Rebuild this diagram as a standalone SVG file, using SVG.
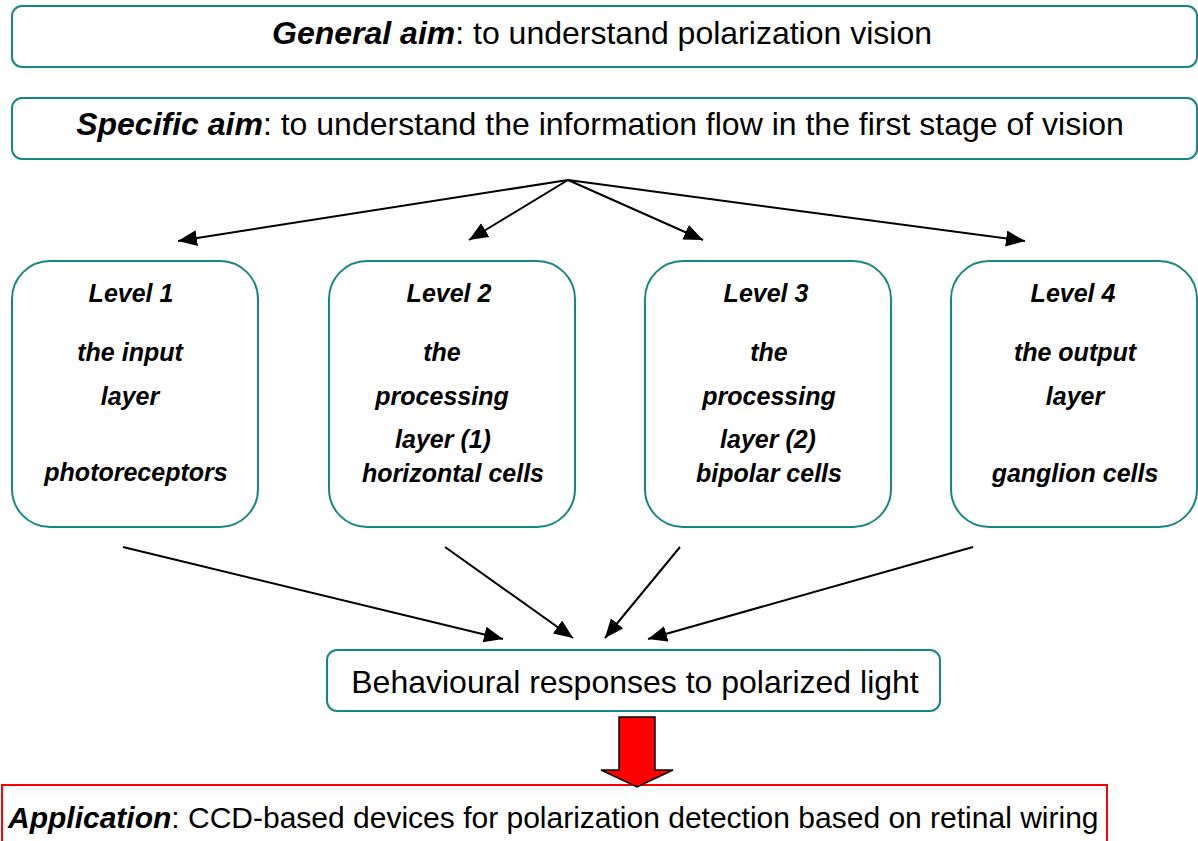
<svg xmlns="http://www.w3.org/2000/svg" width="1198" height="841" viewBox="0 0 1198 841">
<style>
.box{fill:#fff;stroke:#168684;stroke-width:2}
.t{font-family:"Liberation Sans",Arial,sans-serif;fill:#000}
.big{font-size:32px}
.lv{font-size:25px;font-weight:bold;font-style:italic;text-anchor:middle}
.bi{font-weight:bold;font-style:italic}
.con{stroke:#000;stroke-width:2;fill:none;marker-end:url(#ah)}
</style>
<defs>
<marker id="ah" markerUnits="userSpaceOnUse" markerWidth="22" markerHeight="18" refX="19" refY="8" orient="auto">
<path d="M0,0 L19,8 L0,16 z" fill="#000"/>
</marker>
</defs>
<rect width="1198" height="841" fill="#fff"/>
<g id="general">
<rect class="box" x="12" y="6" width="1185" height="61" rx="10"/>
<text class="t big" x="602" y="44" text-anchor="middle"><tspan class="bi">General aim</tspan>: to understand polarization vision</text>
</g>
<g id="specific">
<rect class="box" x="12" y="98" width="1185" height="61" rx="10"/>
<text class="t big" x="600" y="135" text-anchor="middle"><tspan class="bi">Specific aim</tspan>: to understand the information flow in the first stage of vision</text>
</g>
<g id="level1">
<rect class="box" x="12" y="261" width="246" height="266" rx="38"/>
<text class="t lv" x="131" y="302">Level 1</text>
<text class="t lv" x="130" y="361">the input</text>
<text class="t lv" x="130" y="405">layer</text>
<text class="t lv" x="136" y="481">photoreceptors</text>
</g>
<g id="level2">
<rect class="box" x="329" y="261" width="246" height="266" rx="38"/>
<text class="t lv" x="449" y="302">Level 2</text>
<text class="t lv" x="442" y="361">the</text>
<text class="t lv" x="442" y="405">processing</text>
<text class="t lv" x="443" y="448">layer (1)</text>
<text class="t lv" x="453" y="482">horizontal cells</text>
</g>
<g id="level3">
<rect class="box" x="645" y="261" width="246" height="266" rx="38"/>
<text class="t lv" x="766" y="302">Level 3</text>
<text class="t lv" x="769" y="361">the</text>
<text class="t lv" x="769" y="405">processing</text>
<text class="t lv" x="768" y="448">layer (2)</text>
<text class="t lv" x="769" y="482">bipolar cells</text>
</g>
<g id="level4">
<rect class="box" x="951" y="261" width="246" height="266" rx="38"/>
<text class="t lv" x="1073" y="302">Level 4</text>
<text class="t lv" x="1075" y="361">the output</text>
<text class="t lv" x="1075" y="405">layer</text>
<text class="t lv" x="1075" y="482">ganglion cells</text>
</g>
<g id="behaviour">
<rect class="box" x="327" y="650" width="613" height="61" rx="10"/>
<text class="t big" x="635" y="693" text-anchor="middle">Behavioural responses to polarized light</text>
</g>
<g id="application">
<rect x="2" y="785" width="1105" height="80" fill="#fff" stroke="#ff0000" stroke-width="2"/>
<text class="t" font-size="30" x="8" y="828"><tspan class="bi">Application</tspan>: CCD-based devices for polarization detection based on retinal wiring</text>
</g>
<g id="connectors">
<line class="con" x1="568" y1="180" x2="178" y2="241"/>
<line class="con" x1="568" y1="180" x2="469" y2="240"/>
<line class="con" x1="568" y1="180" x2="703" y2="240"/>
<line class="con" x1="568" y1="180" x2="1025" y2="241"/>
<line class="con" x1="123" y1="547" x2="503" y2="639"/>
<line class="con" x1="445" y1="547" x2="573" y2="638"/>
<line class="con" x1="680" y1="547" x2="605" y2="638"/>
<line class="con" x1="973" y1="547" x2="648" y2="639"/>
<polygon id="bigArrow" points="619,717 655,717 655,770 673,770 637,787 601,770 619,770" fill="#ff0000" stroke="#000" stroke-width="1.5"/>
</g>
</svg>
